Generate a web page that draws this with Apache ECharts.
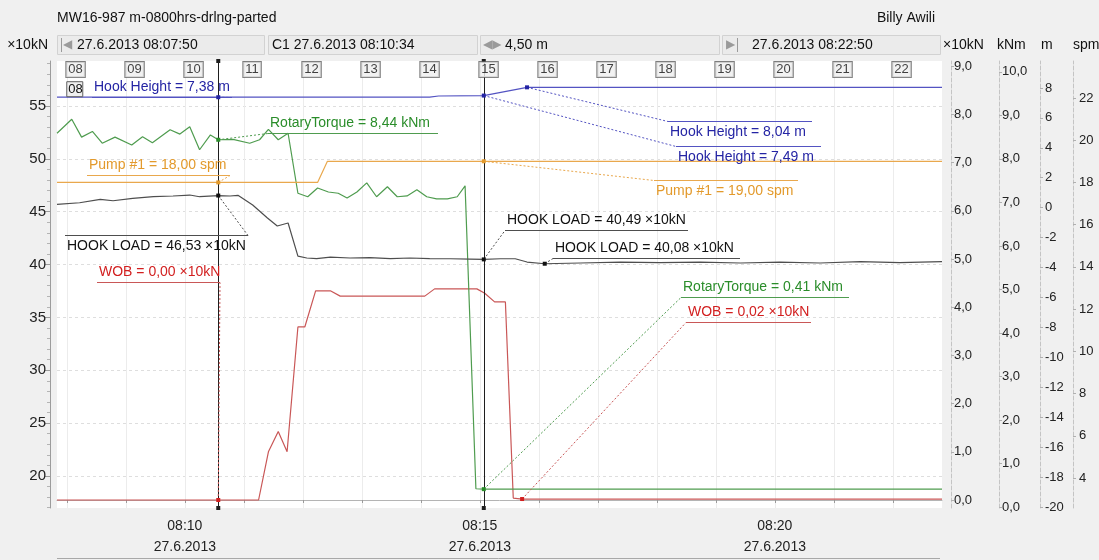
<!DOCTYPE html>
<html>
<head>
<meta charset="utf-8">
<script src="https://cdn.jsdelivr.net/npm/echarts@6/dist/echarts.min.js"></script>
<style>
  html, body { margin: 0; padding: 0; background: #f0f0f0; }
  #chart { width: 1099px; height: 560px; }
</style>
</head>
<body>
<div id="chart"></div>
<script>
// Drilling log, 27.6.2013. Time is kept in seconds after 08:00:00.
const wellTitle = 'MW16-987 m-0800hrs-drlng-parted';
const userName = 'Billy Awili';
const dateText = '27.6.2013';
const timeStart = 470;            // 08:07:50
const timeEnd = 1370;             // 08:22:50
const cursorTimes = [634, 904];   // C1 and the second cursor
const minuteTimes = [480, 540, 600, 660, 720, 780, 840, 900, 960, 1020, 1080, 1140, 1200, 1260, 1320];
const minuteLabels = ['08', '09', '10', '11', '12', '13', '14', '15', '16', '17', '18', '19', '20', '21', '22'];
const timeLabelValues = [600, 900, 1200];

// axis tick values
const loadTicks = [20, 25, 30, 35, 40, 45, 50, 55];
const loadMinorTicks = [17, 18, 19, 21, 22, 23, 24, 26, 27, 28, 29, 31, 32, 33, 34, 36, 37, 38, 39, 41, 42, 43, 44, 46, 47, 48, 49, 51, 52, 53, 54, 56, 57, 58, 59];
const wobTicks = [0, 1, 2, 3, 4, 5, 6, 7, 8, 9];
const torqueTicks = [0, 1, 2, 3, 4, 5, 6, 7, 8, 9, 10];
const heightTicks = [-20, -18, -16, -14, -12, -10, -8, -6, -4, -2, 0, 2, 4, 6, 8];
const pumpTicks = [4, 6, 8, 10, 12, 14, 16, 18, 20, 22];

// series: [time s, value]
const hookLoad = [
  [470, 45.70], [493, 45.85], [514, 46.17], [527, 46.04], [547, 46.27], [568, 46.42], [588, 46.49],
  [605, 46.58], [615, 46.42], [634, 46.53], [646, 46.49], [654, 46.55], [669, 45.63], [684, 44.40],
  [694, 43.65], [705, 43.93], [715, 40.80], [724, 40.62], [734, 40.57], [748, 40.70], [768, 40.62],
  [788, 40.66], [809, 40.57], [829, 40.62], [849, 40.57], [870, 40.55], [890, 40.52], [904, 40.49],
  [921, 40.55], [936, 40.55], [948, 40.24], [966, 40.08], [1002, 40.15], [1043, 40.24], [1083, 40.19],
  [1124, 40.24], [1165, 40.15], [1205, 40.24], [1246, 40.15], [1287, 40.28], [1327, 40.19], [1370, 40.28]
];
const wob = [
  [470, 0.00], [675, 0.00], [685, 1.00], [695, 1.42], [704, 1.00], [715, 3.59], [722, 3.59],
  [733, 4.34], [748, 4.34], [758, 4.23], [844, 4.23], [854, 4.38], [897, 4.38], [905, 4.29],
  [915, 4.11], [926, 4.11], [934, 0.04], [943, 0.02], [1370, 0.02]
];
const rotaryTorque = [
  [470, 8.59], [485, 8.91], [495, 8.50], [506, 8.63], [516, 8.36], [529, 8.50], [546, 8.32],
  [557, 8.51], [567, 8.37], [585, 8.67], [595, 8.57], [605, 8.74], [615, 8.21], [626, 8.55],
  [634, 8.44], [649, 8.45], [666, 8.36], [676, 8.44], [685, 8.68], [695, 8.44], [705, 8.59],
  [715, 7.21], [725, 7.13], [735, 7.33], [746, 7.24], [756, 7.21], [765, 7.10], [775, 7.24],
  [785, 7.45], [795, 7.13], [806, 7.36], [816, 7.13], [826, 7.15], [836, 7.29], [846, 7.13],
  [856, 7.08], [867, 7.08], [877, 7.13], [885, 7.38], [896, 0.42], [904, 0.41], [1370, 0.41]
];
const hookHeight = [
  [470, 7.38], [849, 7.38], [858, 7.46], [904, 7.49], [948, 8.04], [1370, 8.04]
];
const pump1 = [
  [470, 18.00], [735, 18.00], [745, 19.00], [1370, 19.00]
];

// cursor readouts: [channel, time s, value]
const readouts = [
  ['hookHeight', 634, 7.38],
  ['torque', 634, 8.44],
  ['pump', 634, 18.00],
  ['hookLoad', 634, 46.53],
  ['wob', 634, 0.00],
  ['hookHeight', 948, 8.04],
  ['hookHeight', 904, 7.49],
  ['pump', 904, 19.00],
  ['hookLoad', 904, 40.49],
  ['hookLoad', 966, 40.08],
  ['torque', 904, 0.41],
  ['wob', 943, 0.02]
];
// readout label placement, relative to the reading point:
// [dx, dy, underline width, text under the line, leader goes to the right end]
const readoutPlacement = [
  [-126, 0, 140, false, true],
  [50, -7, 170, false, false],
  [-131, -7, 143, false, true],
  [-153, 39, 183, true, true],
  [-121, -218, 123, false, true],
  [141, 34, 144, true, false],
  [192, 50, 145, true, false],
  [170, 19, 144, true, false],
  [21, -29, 183, false, false],
  [8, -6, 187, false, false],
  [197, -192, 168, false, false],
  [164, -177, 125, false, false]
];

const FONT = '"Liberation Sans", Arial, sans-serif';
const channels = {
  hookLoad:   { name: 'HOOK LOAD',    unit: '×10kN', axis: 0, line: '#4e4e4e', text: '#111111', data: hookLoad },
  wob:        { name: 'WOB',          unit: '×10kN', axis: 1, line: '#c95757', text: '#d21f1f', data: wob },
  torque:     { name: 'RotaryTorque', unit: 'kNm',   axis: 2, line: '#4f9c4f', text: '#2a8d2a', data: rotaryTorque },
  hookHeight: { name: 'Hook Height',  unit: 'm',     axis: 3, line: '#5353c2', text: '#2424a4', data: hookHeight },
  pump:       { name: 'Pump #1',      unit: 'spm',   axis: 4, line: '#e9a84d', text: '#e39a2c', data: pump1 }
};

const pad = n => String(n).padStart(2, '0');
const clock = t => pad(8 + Math.floor(t / 3600)) + ':' + pad(Math.floor((t % 3600) / 60)) + ':' + pad(t % 60);
const comma = (v, d) => v.toFixed(d).replace('.', ',');

const GRID = { left: 57, right: 157, top: 61, bottom: 52 };

function rightAxis(offset, min, max, ticks, fmt, margin) {
  return {
    type: 'value', position: 'right', offset: offset, min: min, max: max,
    axisLine: { show: true, lineStyle: { color: '#c4c4c4', type: 'dashed', width: 1 } },
    axisTick: { show: true, length: 3, customValues: ticks, lineStyle: { color: '#b0b0b0' } },
    axisLabel: { customValues: ticks, formatter: fmt, margin: margin, color: '#222', fontSize: 13, fontFamily: FONT },
    splitLine: { show: false }
  };
}

const option = {
  animation: false,
  backgroundColor: '#f0f0f0',
  grid: { left: GRID.left, right: GRID.right, top: GRID.top, bottom: GRID.bottom,
          show: true, backgroundColor: '#ffffff', borderWidth: 0 },
  xAxis: {
    type: 'value', min: timeStart, max: timeEnd, offset: 5,
    axisLine: { show: true, lineStyle: { color: '#b4b4b4' } },
    axisTick: { show: true, length: 3, customValues: minuteTimes, lineStyle: { color: '#9a9a9a' } },
    axisLabel: {
      customValues: timeLabelValues,
      formatter: t => clock(t).slice(0, 5) + '\n' + dateText,
      color: '#222', fontSize: 14, lineHeight: 21, margin: 3, fontFamily: FONT
    },
    splitLine: { show: true, lineStyle: { color: '#ececec', width: 1 } }
  },
  yAxis: [
    {
      type: 'value', position: 'left', offset: 7, min: 16.97, max: 59.26,
      axisLine: { show: true, lineStyle: { color: '#9c9c9c' } },
      axisTick: { show: true, length: 5, customValues: loadTicks, lineStyle: { color: '#9c9c9c' } },
      axisLabel: { customValues: loadTicks, margin: 4, color: '#222', fontSize: 15, fontFamily: FONT },
      splitLine: { show: true, lineStyle: { color: '#dedede', type: [3, 3] } }
    },
    rightAxis(9, -0.166, 9.108, wobTicks, v => comma(v, 1), 3),
    rightAxis(57, -0.023, 10.25, torqueTicks, v => comma(v, 1), 3),
    rightAxis(98, -20.067, 9.80, heightTicks, v => String(v), 5),
    rightAxis(131, 2.579, 23.75, pumpTicks, v => String(v), 6),
    {
      // minor ticks of the load axis
      type: 'value', position: 'left', offset: 7, min: 16.97, max: 59.26,
      axisLine: { show: false },
      axisTick: { show: true, length: 3, customValues: loadMinorTicks, lineStyle: { color: '#b4b4b4' } },
      axisLabel: { show: false },
      splitLine: { show: false }
    }
  ],
  series: [
    ...['wob', 'torque', 'pump', 'hookLoad', 'hookHeight'].map(key => {
      const c = channels[key];
      const s = {
        name: c.name, type: 'line', yAxisIndex: c.axis, data: c.data,
        showSymbol: false, symbol: 'none', silent: true,
        lineStyle: { color: c.line, width: 1.2 }, z: 3
      };
      if (key === 'hookLoad') {
        s.markLine = {
          silent: true, symbol: ['rect', 'rect'], symbolSize: 4,
          label: { show: false },
          lineStyle: { color: '#1e1e1e', width: 1, type: 'solid' },
          itemStyle: { color: '#111' },
          data: cursorTimes.map(t => ({ xAxis: t }))
        };
      }
      return s;
    }),
    {
      // minute markers along the top of the plot
      type: 'scatter', yAxisIndex: 0, silent: true, symbolSize: 1,
      itemStyle: { color: 'rgba(0,0,0,0)' }, z: 6,
      data: minuteTimes.map((t, i) => ({ value: [t, 58.4], name: minuteLabels[i] })),
      label: {
        show: true, position: [0, 0], align: 'left', verticalAlign: 'middle',
        formatter: p => p.name, fontSize: 13, color: '#111', fontFamily: FONT,
        backgroundColor: '#efefef', borderColor: '#5e5e5e', borderWidth: 1, padding: [2, 2, 0, 2]
      },
      labelLayout: { hideOverlap: false }
    }
  ]
};

const chart = echarts.init(document.getElementById('chart'));
chart.setOption(option);

const graphics = [];
const txt = (x, y, text, opts = {}) => graphics.push({
  type: 'text', x: x, y: y, silent: true, z: 120,
  style: Object.assign({ text: text, fill: '#111', font: '14px ' + FONT, verticalAlign: 'middle', align: 'left' }, opts)
});
const rect = (x, y, w, h, fill, stroke) => graphics.push({
  type: 'rect', shape: { x: x, y: y, width: w, height: h }, silent: true, z: 110,
  style: { fill: fill, stroke: stroke, lineWidth: 1 }
});
const seg = (x1, y1, x2, y2, color, dash) => graphics.push({
  type: 'line', shape: { x1: x1, y1: y1, x2: x2, y2: y2 }, silent: true, z: 115,
  style: { stroke: color, lineWidth: 1, lineDash: dash || null }
});

// title bar
txt(57, 18, wellTitle);
txt(935, 18, userName, { align: 'right' });

// navigation row
const rowY = 35, rowH = 19;
rect(57.5, rowY + 0.5, 207, rowH, '#ebebeb', '#d2d2d2');
rect(268.5, rowY + 0.5, 209, rowH, '#ebebeb', '#d2d2d2');
rect(480.5, rowY + 0.5, 239, rowH, '#ebebeb', '#d2d2d2');
rect(722.5, rowY + 0.5, 218, rowH, '#ebebeb', '#d2d2d2');
seg(61.5, 38, 61.5, 52, '#9a9a9a');
txt(63, 45, '◀', { fill: '#9a9a9a', font: '12px "DejaVu Sans"' });
txt(77, 45, dateText + ' ' + clock(timeStart));
txt(272, 45, 'C1 ' + dateText + ' ' + clock(cursorTimes[0]));
txt(483, 45, '◀▶', { fill: '#9a9a9a', font: '12px "DejaVu Sans"' });
txt(505, 45, comma((cursorTimes[1] - cursorTimes[0]) / 60, 2) + ' m');
txt(726, 45, '▶', { fill: '#9a9a9a', font: '12px "DejaVu Sans"' });
seg(737.5, 38, 737.5, 52, '#9a9a9a');
txt(752, 45, dateText + ' ' + clock(timeEnd));

// axis unit captions
txt(48, 45, '×10kN', { align: 'right' });
txt(943, 45, '×10kN');
txt(997, 45, 'kNm');
txt(1041, 45, 'm');
txt(1073, 45, 'spm');

// scroll strip under the time axis
seg(57, 558.5, 940, 558.5, '#a8a8a8');

// tag beside the first hook height readout
const firstPt = chart.convertToPixel({ xAxisIndex: 0, yAxisIndex: channels.hookHeight.axis }, [readouts[0][1], readouts[0][2]]);
rect(firstPt[0] + readoutPlacement[0][0] - 25.5, firstPt[1] - 15.5, 16, 15, '#efefef', '#5e5e5e');
txt(firstPt[0] + readoutPlacement[0][0] - 24, firstPt[1] - 7.5, '08', { font: '13px ' + FONT });

// cursor readouts with dotted leaders
readouts.forEach((r, i) => {
  const c = channels[r[0]];
  const p = chart.convertToPixel({ xAxisIndex: 0, yAxisIndex: c.axis }, [r[1], r[2]]);
  const [dx, dy, w, below, toRight] = readoutPlacement[i];
  const ux = Math.round(p[0] + dx), uy = Math.round(p[1] + dy) + 0.5;
  seg(p[0], p[1], toRight ? ux + w : ux, uy, c.line, [2, 2]);
  seg(ux, uy, ux + w, uy, c.line);
  txt(ux + 2, below ? uy + 11 : uy - 10, c.name + ' = ' + comma(r[2], 2) + ' ' + c.unit, { fill: c.text });
  graphics.push({
    type: 'rect', shape: { x: p[0] - 2, y: p[1] - 2, width: 4, height: 4 }, silent: true, z: 118,
    style: { fill: c.text }
  });
});

chart.setOption({ graphic: graphics });
</script>
</body>
</html>
